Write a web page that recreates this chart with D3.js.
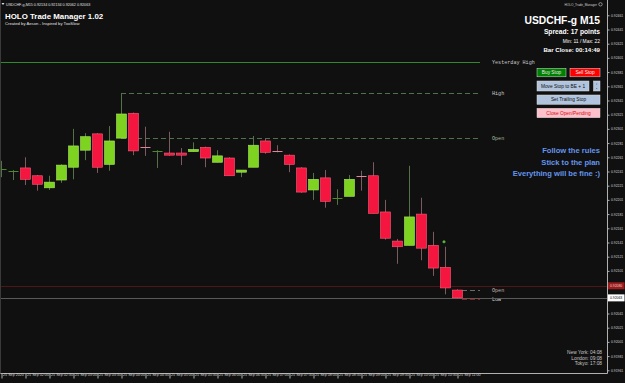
<!DOCTYPE html>
<html><head><meta charset="utf-8">
<script src="https://cdn.jsdelivr.net/npm/d3@7/dist/d3.min.js"></script>
<style>html,body{margin:0;padding:0;background:#101010;overflow:hidden}</style>
</head><body>
<svg id="c" width="625" height="383"></svg>
<script>
// ---------- data ----------
const barTimes = ["01:30","01:45","02:00","02:15","02:30","02:45","03:00","03:15","03:30","03:45",
  "04:00","04:15","04:30","04:45","05:00","05:15","05:30","05:45","06:00","06:15",
  "06:30","06:45","07:00","07:15","07:30","07:45","08:00","08:15","08:30","08:45",
  "09:00","09:15","09:30","09:45","10:00","10:15","10:30","10:45","11:00"];
const opens  = [0.92244,0.92242,0.92246,0.92235,0.92218,0.92229,0.92247,0.92271,0.92294,0.92251,
  0.92288,0.92323,0.92275,0.92270,0.92267,0.92267,0.92269,0.92275,0.92254,0.92260,
  0.92240,0.92247,0.92284,0.92270,0.92264,0.92246,0.92215,0.92232,0.92203,0.92206,
  0.92235,0.92235,0.92184,0.92143,0.92137,0.92181,0.92137,0.92106,0.92074];
const highs  = [0.92256,0.92243,0.92261,0.92236,0.92235,0.92251,0.92301,0.92295,0.92295,0.92305,
  0.92351,0.92324,0.92304,0.92271,0.92297,0.92274,0.92282,0.92276,0.92271,0.92261,
  0.92243,0.92291,0.92287,0.92278,0.92265,0.92247,0.92239,0.92243,0.92216,0.92236,
  0.92242,0.92254,0.92201,0.92146,0.92249,0.92204,0.92156,0.92135,0.92075];
const lows   = [0.92233,0.92229,0.92222,0.92214,0.92215,0.92225,0.92230,0.92257,0.92239,0.92242,
  0.92287,0.92264,0.92263,0.92246,0.92263,0.92250,0.92269,0.92247,0.92254,0.92235,
  0.92233,0.92247,0.92266,0.92268,0.92240,0.92211,0.92201,0.92190,0.92194,0.92206,
  0.92214,0.92182,0.92145,0.92111,0.92137,0.92116,0.92094,0.92068,0.92062];
const closes = [0.92245,0.92243,0.92230,0.92223,0.92226,0.92250,0.92277,0.92290,0.92247,0.92284,
  0.92322,0.92270,0.92274,0.92271,0.92264,0.92264,0.92272,0.92260,0.92263,0.92235,
  0.92243,0.92278,0.92268,0.92269,0.92251,0.92212,0.92230,0.92199,0.92204,0.92230,
  0.92234,0.92182,0.92147,0.92135,0.92177,0.92133,0.92105,0.92077,0.92063];

// visible price-axis labels (the two under the bid/ask boxes are hidden in the original)
const priceTicks = [0.91961,0.91981,0.92001,0.92021,0.92041,0.92101,0.92121,0.92141,
  0.92161,0.92181,0.92201,0.92221,0.92241,0.92261,0.92281,0.92301,0.92321,0.92341,
  0.92361,0.92381,0.92401,0.92421,0.92441,0.92461];
const timeTickIndex  = [0,2,4,6,8,10,12,14,16,18,20,22,24,26,28,30,32,34,36,38];
const timeTickLabels = ["25 Sep 2020","25 Sep 02:00","25 Sep 02:30","25 Sep 03:00","25 Sep 03:30",
  "25 Sep 04:00","25 Sep 04:30","25 Sep 05:00","25 Sep 05:30","25 Sep 06:00","25 Sep 06:30",
  "25 Sep 07:00","25 Sep 07:30","25 Sep 08:00","25 Sep 08:30","25 Sep 09:00","25 Sep 09:30",
  "25 Sep 10:00","25 Sep 10:30","25 Sep 11:00"];

const levelNames  = ["Yesterday High","High","Open","Open","Low"];
const levelPrices = [0.92395,0.92351,0.92288,0.92074,0.92062];
const levelStart  = [null,10,10,37.5,37.5];   // bar index where the line starts (null = left edge)

const bidPrice = 0.92063, askPrice = 0.92080;
const markerIndex = [37], markerPrice = [0.92142];

// ---------- scales ----------
const W = 625, H = 383, plotRight = 607.5, plotBottom = 373.5;
const x = d3.scaleLinear().domain([0, 38]).range([1, 457]);
const y = d3.scaleLinear().domain([0.9206, 0.9246]).range([300, 16]);

const svg = d3.select("#c");
svg.append("rect").attr("width", W).attr("height", H).attr("fill", "#101010");

const levelEndX = 480;

// ---------- level lines ----------
const lv = svg.append("g");
const lvStyle = [
  {stroke:"#2f8a2f", dash:null, color:"#c8c8c8"},
  {stroke:"#4d734d", dash:"5,3", color:"#c8c8c8"},
  {stroke:"#4d734d", dash:"5,3", color:"#a8bca0"},
  {stroke:"#6a6a6a", dash:"5,3", color:"#c8b4b4"},
  {stroke:"#8a2020", dash:"5,3", color:"#d8d8d8"}
];
svg.append("line").attr("x1",0).attr("x2",plotRight).attr("y1",Math.round(y(askPrice))+0.5).attr("y2",Math.round(y(askPrice))+0.5)
  .attr("stroke","#4e1616").attr("stroke-width",1);
svg.append("line").attr("x1",0).attr("x2",plotRight).attr("y1",Math.round(y(bidPrice))+0.5).attr("y2",Math.round(y(bidPrice))+0.5)
  .attr("stroke","#5a5a5a").attr("stroke-width",1);

levelNames.forEach((n,k) => {
  const yy = Math.round(y(levelPrices[k])) + 0.5;
  const st = lvStyle[k];
  const x0 = levelStart[k] === null ? 0 : (k >= 3 ? 462 : x(levelStart[k]));
  const ln = lv.append("line").attr("x1",x0).attr("x2",levelEndX).attr("y1",yy).attr("y2",yy)
    .attr("stroke",st.stroke).attr("stroke-width",1);
  if (st.dash) ln.attr("stroke-dasharray",st.dash);
  lv.append("text").attr("x",492).attr("y",yy+1.6).text(n)
    .attr("font-family","'Liberation Mono','DejaVu Sans Mono',monospace").attr("font-size",5.1)
    .attr("fill",st.color);
});

// ---------- candles ----------
const bars = opens.map((o,i) => ({i, o, h:highs[i], l:lows[i], c:closes[i], up: closes[i] >= o}));
const cg = svg.append("g");
cg.selectAll("line.wick").data(bars).join("line").attr("class","wick")
  .attr("x1", d => x(d.i) + 0.5).attr("x2", d => x(d.i) + 0.5)
  .attr("y1", d => y(d.h)).attr("y2", d => y(d.l))
  .attr("stroke", d => d.up ? "#56704a" : "#7d5a60").attr("stroke-width", 1);

const isDoji = d => Math.abs(d.o - d.c) < 0.000015;
cg.selectAll("line.doji").data(bars.filter(isDoji)).join("line").attr("class","doji")
  .attr("x1", d => x(d.i) - 4.5).attr("x2", d => x(d.i) + 5.5)
  .attr("y1", d => Math.round(y(d.o)) + 0.5).attr("y2", d => Math.round(y(d.o)) + 0.5)
  .attr("stroke", d => d.up ? "#4e8a26" : "#e0869a").attr("stroke-width", 1);

cg.selectAll("rect.body").data(bars.filter(d => !isDoji(d))).join("rect").attr("class","body")
  .attr("x", d => x(d.i) - 4.5).attr("width", 10)
  .attr("y", d => y(Math.max(d.o, d.c))).attr("height", d => Math.max(1.5, y(Math.min(d.o, d.c)) - y(Math.max(d.o, d.c))))
  .attr("fill", d => d.up ? "#7ed321" : "#f5163f")
  .attr("stroke", d => d.up ? "#a8ea5e" : "#ff5a78").attr("stroke-width", 0.6);

markerIndex.forEach((mi,k) => {
  const mx = x(mi) - 1, my = y(markerPrice[k]);
  svg.append("path").attr("d", `M${mx-1.5},${my}H${mx+1.5}M${mx},${my-1.5}V${my+1.5}`)
    .attr("stroke","#5fcf3f").attr("stroke-width",1.2);
});

// ---------- axes ----------
svg.append("line").attr("x1",plotRight).attr("x2",plotRight).attr("y1",0).attr("y2",plotBottom).attr("stroke","#b0b0b0").attr("stroke-width",1);
svg.append("line").attr("x1",0).attr("x2",plotRight).attr("y1",plotBottom).attr("y2",plotBottom).attr("stroke","#b0b0b0").attr("stroke-width",1);
svg.append("line").attr("x1",0.5).attr("x2",0.5).attr("y1",0).attr("y2",plotBottom).attr("stroke","#3a3a3a").attr("stroke-width",1);

const yAxis = d3.axisRight(y).tickValues(priceTicks).tickFormat(d3.format(".5f")).tickSize(2).tickPadding(1.5);
const ya = svg.append("g").attr("transform", `translate(${plotRight},0)`).call(yAxis);
ya.select(".domain").remove();
ya.selectAll("line").attr("stroke","#b0b0b0");
ya.selectAll("text").attr("fill","#d0d0d0").attr("font-size",3.4).attr("font-family","'Liberation Sans',Arial,sans-serif");

const xAxis = d3.axisBottom(x).tickValues(timeTickIndex).tickFormat((d,k) => timeTickLabels[k]).tickSize(5).tickPadding(0);
const xa = svg.append("g").attr("transform", `translate(0,${plotBottom})`).call(xAxis);
xa.select(".domain").remove();
xa.selectAll("line").attr("stroke","#b0b0b0").attr("transform","translate(0.5,0)");
xa.selectAll("text").attr("fill","#d0d0d0").attr("font-size",3.7).attr("font-family","'Liberation Sans',Arial,sans-serif")
  .attr("text-anchor","start").attr("dx",1.5).attr("dy",0).attr("y",2);

function priceBox(p, fill, tc) {
  const yy = y(p);
  svg.append("rect").attr("x",plotRight+0.5).attr("y",yy-3.5).attr("width",16.5).attr("height",7).attr("fill",fill);
  svg.append("text").attr("x",plotRight+2.5).attr("y",yy+1.2).text(d3.format(".5f")(p))
    .attr("font-size",3.4).attr("font-family","'Liberation Sans',Arial,sans-serif").attr("fill",tc);
}
priceBox(askPrice, "#9a1c1c", "#f0d0d0");
priceBox(bidPrice, "#ffffff", "#000000");

// ---------- header texts ----------
const sans = "'Liberation Sans',Arial,sans-serif";
svg.append("path").attr("d","M1.5,3 L4.5,3 L3,5 Z").attr("fill","#e0e0e0");
svg.append("text").attr("x",6).attr("y",5.5).text("USDCHF-g,M15  0.92134 0.92134 0.92062 0.92063")
  .attr("font-size",3.7).attr("font-family",sans).attr("fill","#e0e0e0");
svg.append("text").attr("x",5).attr("y",19.3).text("HOLO Trade Manager 1.02")
  .attr("font-size",7.9).attr("font-weight","bold").attr("font-family",sans).attr("fill","#ffffff");
svg.append("text").attr("x",5).attr("y",25.3).text("Created by Aeson  -  Inspired by TooSlow")
  .attr("font-size",4.2).attr("font-family",sans).attr("fill","#e0e0e0");

svg.append("text").attr("x",597).attr("y",5.5).attr("text-anchor","end").text("HOLO_Trade_Manager")
  .attr("font-size",3.1).attr("font-family",sans).attr("fill","#d0d0d0");
svg.append("circle").attr("cx",600.5).attr("cy",4.3).attr("r",1.7).attr("fill","none").attr("stroke","#d0d0d0").attr("stroke-width",0.6);

const rt = [
  {t:"USDCHF-g M15", y:23.5, s:10.3, b:true},
  {t:"Spread: 17 points", y:34.3, s:6.7, b:true},
  {t:"Min: 11 / Max: 22", y:43, s:4.9, b:false},
  {t:"Bar Close: 00:14:49", y:52.3, s:6.1, b:true}
];
rt.forEach(r => svg.append("text").attr("x",600).attr("y",r.y).attr("text-anchor","end").text(r.t)
  .attr("font-size",r.s).attr("font-weight",r.b?"bold":"normal").attr("font-family",sans).attr("fill","#ffffff"));

const btns = [
  {t:"Buy Stop", x:537, w:29, y:68.3, h:8.5, f:"#008000", c:"#e8e8e8"},
  {t:"Sell Stop", x:570, w:30, y:68.3, h:8.5, f:"#ff0000", c:"#f0f0f0"},
  {t:"Move Stop to BE + 1", x:537, w:52, y:81, h:10, f:"#b0c4de", c:"#101010"},
  {t:"Set Trailing Stop", x:537, w:63, y:95, h:9.3, f:"#b0c4de", c:"#101010"},
  {t:"Close Open/Pending", x:537, w:63, y:108.3, h:9.4, f:"#ffc0cb", c:"#d01010"}
];
btns.forEach(b => {
  svg.append("rect").attr("x",b.x).attr("y",b.y).attr("width",b.w).attr("height",b.h)
    .attr("fill",b.f).attr("stroke","#dcdcdc").attr("stroke-width",0.5);
  svg.append("text").attr("x",b.x+b.w/2).attr("y",b.y+b.h/2+1.7).attr("text-anchor","middle").text(b.t)
    .attr("font-size",4.8).attr("font-family",sans).attr("fill",b.c);
});
svg.append("rect").attr("x",593.5).attr("y",81).attr("width",6.5).attr("height",10).attr("fill","#b0c4de").attr("stroke","#dcdcdc").attr("stroke-width",0.5);
svg.append("circle").attr("cx",596.8).attr("cy",84).attr("r",0.45).attr("fill","#202020");
svg.append("circle").attr("cx",596.8).attr("cy",88.5).attr("r",0.45).attr("fill","#202020");

["Follow the rules","Stick to the plan","Everything will be fine :)"].forEach((t,k) =>
  svg.append("text").attr("x",600).attr("y",153.3 + k*11.4).attr("text-anchor","end").text(t)
    .attr("font-size",7.6).attr("font-weight","bold").attr("font-family",sans).attr("fill","#6495ed"));

["New York: 04:08","London: 09:08","Tokyo: 17:08"].forEach((t,k) =>
  svg.append("text").attr("x",602).attr("y",354.3 + k*5.2).attr("text-anchor","end").text(t)
    .attr("font-size",4.8).attr("font-family",sans).attr("fill","#c8c8c8"));
</script>
</body></html>
